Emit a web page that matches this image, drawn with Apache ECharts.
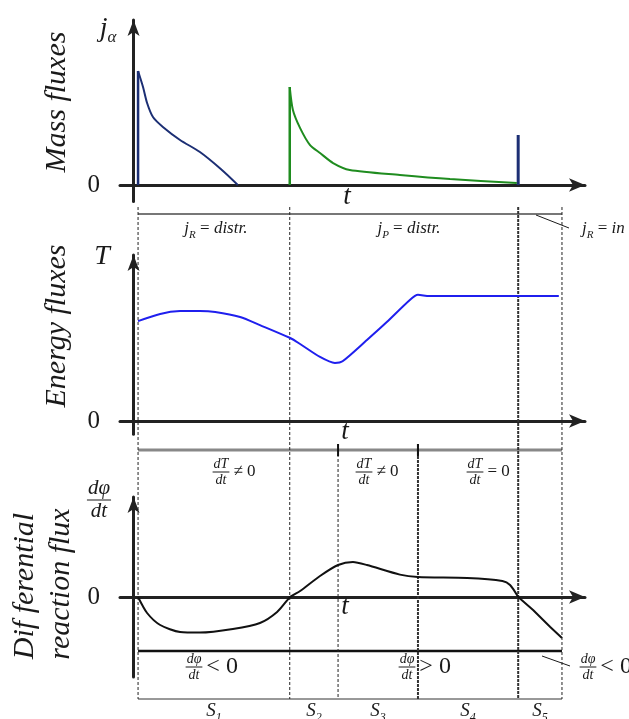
<!DOCTYPE html>
<html>
<head>
<meta charset="utf-8">
<script src="https://cdn.jsdelivr.net/npm/echarts@6/dist/echarts.min.js"></script>
<style>
html, body { margin: 0; padding: 0; background: #fff; }
#chart { width: 629px; height: 719px; }
</style>
</head>
<body>
<div id="chart"></div>
<script>
// stage boundaries on the t axis (S1..S5)
const segBounds = [1.0, 34.6, 45.3, 63.0, 85.2, 94.9];
const segNames = ['1', '2', '3', '4', '5'];

// mass fluxes: reactant (distributed), product (distributed), reactant pulse
const jReactRise = [[1.0, 0], [1.0, 6.91]];
const jReact = [[1.0, 6.91], [2.1, 5.94], [3.0, 4.97], [4.3, 4.12], [6.5, 3.52],
  [10.3, 2.73], [14.7, 2.0], [19.2, 1.0], [23.1, 0]];
const jProdRise = [[34.6, 0], [34.6, 5.94]];
const jProd = [[34.6, 5.94], [35.3, 4.55], [36.9, 3.45], [39.1, 2.42], [41.3, 1.94],
  [44.2, 1.33], [47.9, 0.91], [59.0, 0.61], [70.1, 0.36], [84.9, 0.12]];
const jPulse = [[85.2, 0], [85.2, 3.03]];

// temperature
const temp = [[1.0, 6.02], [5.9, 6.45], [10.3, 6.62], [14.7, 6.63], [18.1, 6.57], [23.6, 6.27],
  [28.0, 5.78], [34.7, 5.0], [36.9, 4.64], [41.3, 3.86], [44.6, 3.5], [46.3, 3.6],
  [51.7, 4.88], [56.1, 5.96], [61.2, 7.29], [63.0, 7.6], [65.5, 7.53], [94.2, 7.53]];

// differential reaction flux (before and after the kink at the S4/S5 boundary)
const dphi = [[1.0, 0], [3.0, -0.8], [5.9, -1.4], [10.3, -1.75], [14.7, -1.78], [22.0, -1.6],
  [28.0, -1.3], [31.8, -0.75], [34.7, 0], [36.9, 0.3], [41.3, 1.05], [45.3, 1.6],
  [48.6, 1.75], [51.7, 1.6], [59.0, 1.12], [63.0, 1.0], [73.9, 0.95], [81.7, 0.8],
  [83.4, 0.6], [85.2, 0]];
const dphiTail = [[85.2, 0], [88.5, -0.65], [92.3, -1.5], [94.9, -2.05]];

const SERIF = '"Liberation Serif", "DejaVu Serif", serif';
const INK = '#1a1a1a';

const chart = echarts.init(document.getElementById('chart'));

const grids = [
  { left: 120, right: 44, top: 20, height: 181.5 },
  { left: 120, right: 44, top: 255, height: 179.3 },
  { left: 120, right: 44, top: 497, height: 180 }
];
const yRanges = [[-1, 10], [-0.8, 10], [-4, 5]];

function xAx(i) {
  return {
    gridIndex: i, type: 'value', min: -3, max: 100,
    axisLine: { onZero: true, symbol: ['none', 'arrow'], symbolSize: [10, 16],
      lineStyle: { color: '#222', width: 3 } },
    axisTick: { show: false }, axisLabel: { show: false }, splitLine: { show: false }
  };
}
function yAx(i) {
  return {
    gridIndex: i, type: 'value', min: yRanges[i][0], max: yRanges[i][1],
    axisLine: { onZero: true, symbol: ['none', 'arrow'], symbolSize: [9, 16],
      lineStyle: { color: '#222', width: 3 } },
    axisTick: { show: false }, splitLine: { show: false },
    axisLabel: { customValues: [0], fontFamily: SERIF, fontSize: 25, color: INK, margin: 20 }
  };
}
function line(data, i, color, w, smooth) {
  return {
    type: 'line', xAxisIndex: i, yAxisIndex: i, data: data, showSymbol: false,
    smooth: smooth || false,
    lineStyle: { color: color, width: w || 2 }, animation: false, z: 3
  };
}

chart.setOption({
  animation: false,
  grid: grids,
  xAxis: [xAx(0), xAx(1), xAx(2)],
  yAxis: [yAx(0), yAx(1), yAx(2)],
  series: [
    line(jReactRise, 0, '#1c2f74', 2.5),
    line(jReact, 0, '#1c2f74', 2, 0.25),
    line(jPulse, 0, '#1c2f74', 3),
    line(jProdRise, 0, '#1f8c1f', 2.5),
    line(jProd, 0, '#1f8c1f', 2, 0.25),
    line(temp, 1, '#1f1fee', 2, 0.25),
    line(dphi, 2, '#111', 2, 0.25),
    line(dphiTail, 2, '#111', 2)
  ]
});

// ---- annotations ----
const cv = document.createElement('canvas').getContext('2d');
function tw(str, size) {
  cv.font = 'italic ' + size + 'px ' + SERIF;
  return cv.measureText(str).width;
}
const px = v => chart.convertToPixel({ xAxisIndex: 0 }, v);
const bx = segBounds.map(px);

const g = [];
function txt(x, y, s, size, opt) {
  g.push(Object.assign({
    type: 'text', x: x, y: y, z: 10,
    style: Object.assign({ text: s, font: 'italic ' + size + 'px ' + SERIF, fill: INK,
      align: 'center', verticalAlign: 'middle' }, (opt && opt.style) || {})
  }, opt && opt.rot ? { rotation: opt.rot } : {}));
}
function richTxt(x, y, s, size, align) {
  g.push({
    type: 'text', x: x, y: y, z: 10,
    style: {
      text: s, align: align || 'center', verticalAlign: 'middle', fill: INK,
      font: 'italic ' + size + 'px ' + SERIF,
      rich: {
        b: { font: 'italic ' + size + 'px ' + SERIF, lineHeight: size + 6, verticalAlign: 'middle' },
        s: { font: 'italic ' + Math.round(size * 0.62) + 'px ' + SERIF, verticalAlign: 'bottom',
          lineHeight: size + 6 },
        u: { font: size + 'px ' + SERIF, lineHeight: size + 6 }
      }
    }
  });
}
function seg(x1, y1, x2, y2, color, w, dash) {
  g.push({
    type: 'line', z: 2, shape: { x1: x1, y1: y1, x2: x2, y2: y2 },
    style: { stroke: color, lineWidth: w, lineDash: dash || null }
  });
}
// fraction num/den centred at cx with bar at cy, followed by tail text
function frac(cx, cy, num, den, size, tail, tailSize) {
  const w = Math.max(tw(num, size), tw(den, size)) + 2;
  txt(cx, cy - 1, num, size, { style: { verticalAlign: 'bottom' } });
  txt(cx, cy + 1, den, size, { style: { verticalAlign: 'top' } });
  seg(cx - w / 2, cy, cx + w / 2, cy, INK, 1);
  if (tail) {
    g.push({ type: 'text', x: cx + w / 2 + 4, y: cy, z: 10,
      style: { text: tail, font: tailSize + 'px ' + SERIF, fill: INK, align: 'left', verticalAlign: 'middle' } });
  }
}

// panel titles (rotated)
txt(57, 102, 'Mass fluxes', 30, { rot: Math.PI / 2 });
txt(57, 326, 'Energy fluxes', 30, { rot: Math.PI / 2 });
txt(25, 586, 'Dif ferential', 30, { rot: Math.PI / 2 });
txt(61, 584, 'reaction flux', 30, { rot: Math.PI / 2 });

// axis names
richTxt(108, 29, '{b|j}{s|α}', 28);
txt(102, 257, 'T', 28);
frac(99, 500, 'dφ', 'dt', 21);
txt(347, 197, 't', 27);
txt(345, 432, 't', 27);
txt(345, 607, 't', 27);

// band lines
seg(bx[0], 214, bx[5], 214, '#777', 2);
seg(bx[0], 450, bx[5], 450, '#888', 3);
seg(bx[0], 651, bx[5], 651, '#111', 2.5);
seg(bx[0], 699, bx[5], 699, '#333', 1);

// stage separators
seg(bx[0], 207, bx[0], 699, '#222', 1, [3, 2]);
seg(bx[1], 207, bx[1], 699, '#222', 1, [3, 2]);
seg(bx[2], 444, bx[2], 699, '#222', 1, [3, 2]);
seg(bx[3], 444, bx[3], 699, '#333', 2, [3, 1]);
seg(bx[4], 207, bx[4], 699, '#333', 2, [3, 1]);
seg(bx[5], 207, bx[5], 699, '#222', 1, [3, 2]);
seg(bx[2], 444, bx[2], 456, '#111', 2);
seg(bx[3], 444, bx[3], 456, '#111', 2);

// mass flux regimes
richTxt((bx[0] + bx[1]) / 2 + 2, 229, '{b|j}{s|R}{u| = }{b|distr.}', 17);
richTxt((bx[1] + bx[4]) / 2 + 5, 229, '{b|j}{s|P}{u| = }{b|distr.}', 17);
richTxt(582, 229, '{b|j}{s|R}{u| = }{b|in}', 17, 'left');
seg(536, 215, 569, 228, INK, 1);

// temperature regimes
frac(221, 472, 'dT', 'dt', 14, '≠ 0', 17);
frac(364, 472, 'dT', 'dt', 14, '≠ 0', 17);
frac(475, 472, 'dT', 'dt', 14, '= 0', 17);

// reaction flux sign
frac(194, 667, 'dφ', 'dt', 14, '< 0', 24);
frac(407, 667, 'dφ', 'dt', 14, '> 0', 24);
frac(588, 667, 'dφ', 'dt', 14, '< 0', 24);
seg(542, 656, 570, 666, INK, 1);

// stage names
for (let i = 0; i < 5; i++) {
  richTxt((bx[i] + bx[i + 1]) / 2, 711, '{b|S}{s|' + segNames[i] + '}', 19);
}

chart.setOption({ graphic: g });
</script>
</body>
</html>
